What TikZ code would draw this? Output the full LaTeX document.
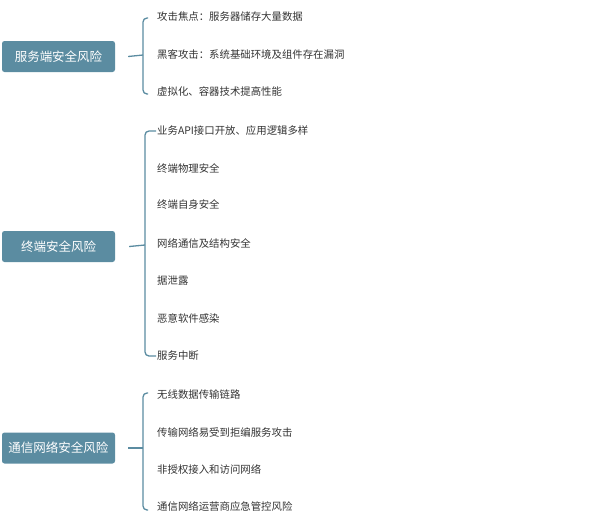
\documentclass[tikz,border=0pt]{standalone}
\usepackage{fontspec}
\setmainfont{Noto Sans CJK SC}
\definecolor{boxc}{HTML}{5B8CA1}
\definecolor{txt}{HTML}{333333}
\begin{document}
\begin{tikzpicture}[x=1pt,y=-1pt,
  cat/.style={fill=boxc,draw=none,rounded corners=2.5pt,minimum width=113pt,minimum height=31pt,text=white,font=\fontsize{12.5}{14}\selectfont,inner sep=0pt},
  item/.style={anchor=west,text=txt,font=\fontsize{10.4}{12}\selectfont,inner sep=0pt},
  conn/.style={draw=boxc,line width=1.3pt,rounded corners=4pt}]
\useasboundingbox (0,0) rectangle (600,523);
% section 1
\node[cat] (b1) at (58.5,56.5) {服务端安全风险};
\node[item] (a1) at (157,17) {攻击焦点：服务器储存大量数据};
\node[item] (a2) at (157,55) {黑客攻击：系统基础环境及组件存在漏洞};
\node[item] (a3) at (157,92) {虚拟化、容器技术提高性能};
\coordinate (j1) at (143,55);
\draw[conn] ([xshift=-9pt,yshift=-1pt]a1.west) -| (j1) |- ([xshift=-9pt,yshift=-2pt]a3.west);
\draw[conn] ([xshift=13pt]b1.east) -- (j1);
% section 2
\node[cat] (b2) at (58.5,246.5) {终端安全风险};
\node[item] (c1) at (157,131) {业务API接口开放、应用逻辑多样};
\node[item] (c2) at (157,168) {终端物理安全};
\node[item] (c3) at (157,205) {终端自身安全};
\node[item] (c4) at (157,243) {网络通信及结构安全};
\node[item] (c5) at (157,281) {据泄露};
\node[item] (c6) at (157,318) {恶意软件感染};
\node[item] (c7) at (157,356) {服务中断};
\coordinate (j2) at (145,245);
\draw[conn] ([xshift=-1pt]c1.west) -| (j2) |- ([xshift=-1pt]c7.west);
\draw[conn] ([xshift=14pt]b2.east) -- (j2);
% section 3
\node[cat] (b3) at (58.5,448) {通信网络安全风险};
\node[item] (d1) at (157,395) {无线数据传输链路};
\node[item] (d2) at (157,432) {传输网络易受到拒编服务攻击};
\node[item] (d3) at (157,469) {非授权接入和访问网络};
\node[item] (d4) at (157,507) {通信网络运营商应急管控风险};
\coordinate (j3) at (143,448);
\draw[conn] ([xshift=-9pt,yshift=2pt]d1.west) -| (j3) |- ([xshift=-9pt,yshift=-3pt]d4.west);
\draw[conn] ([xshift=13pt]b3.east) -- (j3);
\end{tikzpicture}
\end{document}
